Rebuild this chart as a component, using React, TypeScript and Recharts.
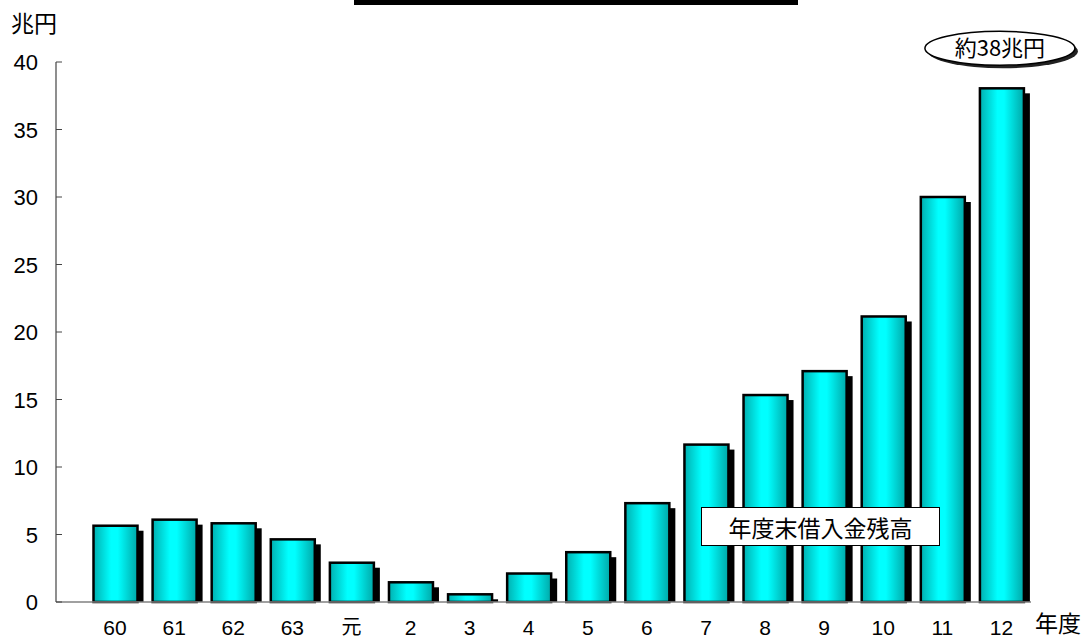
import React from 'react';
import { BarChart, Bar, XAxis, YAxis, Legend, LabelList } from 'recharts';

// Fiscal years (Showa 60 – Heisei 12) and year-end borrowing balance, trillion yen
const years = ['60', '61', '62', '63', '元', '2', '3', '4', '5', '6', '7', '8', '9', '10', '11', '12'];
const balances = [5.65, 6.1, 5.83, 4.64, 2.91, 1.46, 0.57, 2.11, 3.69, 7.32, 11.66, 15.33, 17.1, 21.15, 30.0, 38.05];
const yTicks = [0, 5, 10, 15, 20, 25, 30, 35, 40];
const seriesName = '年度末借入金残高';
const calloutText = '約38兆円';
const yUnit = '兆円';
const xUnit = '年度';

const data = years.map((year, i) => ({ year, balance: balances[i] }));

const FONT = '"Liberation Sans", Arial, "Noto Sans CJK JP", sans-serif';
const CJK = '"Noto Sans CJK JP", "Liberation Sans", sans-serif';

// Bar with a hard black drop shadow and a cylinder-like cyan gradient
const ShadowBar = (props: any) => {
  const { x, y, width, height } = props;
  if (!height || height <= 0) return null;
  const dx = 6;
  const dy = 5;
  return (
    <g>
      {height > dy && <rect x={x + dx} y={y + dy} width={width} height={height - dy} fill="#000" />}
      <rect x={x} y={y} width={width} height={height} fill="url(#cylinder)" stroke="#000" strokeWidth={2.5} />
    </g>
  );
};

const YTick = (props: any) => {
  const { x, y, payload } = props;
  return (
    <g>
      <line x1={x} x2={x + 6} y1={y} y2={y} stroke="#444" strokeWidth={1} />
      <text x={x - 18} y={y + 8} textAnchor="end" fontSize={22} fontFamily={FONT} fill="#000">
        {payload.value}
      </text>
    </g>
  );
};

const XTick = (props: any) => {
  const { x, y, payload } = props;
  const isCjk = payload.value === '元';
  return (
    <text
      x={x}
      y={y + (isCjk ? 32 : 33)}
      textAnchor="middle"
      fontSize={isCjk ? 20 : 21}
      fontFamily={isCjk ? CJK : FONT}
      fill="#000"
    >
      {payload.value}
    </text>
  );
};

// Oval callout above the final bar
const Callout = (props: any) => {
  const { x, y, width, index } = props;
  if (index !== balances.length - 1) return null;
  const cx = x + width / 2 - 2;
  const cy = y - 40;
  return (
    <g>
      <ellipse cx={cx + 3} cy={cy + 3} rx={75} ry={17} fill="#222" />
      <ellipse cx={cx} cy={cy} rx={75} ry={17} fill="#fff" stroke="#000" strokeWidth={1.5} />
      <text x={cx} y={cy + 8} textAnchor="middle" fontSize={22} fontFamily={CJK} fill="#000">
        {calloutText}
      </text>
    </g>
  );
};

// Series key drawn as a boxed label; zero-size wrapper so it reserves no chart space
const LegendBox = () => (
  <div
    style={{
      position: 'absolute',
      left: 0,
      top: 0,
      width: 239,
      height: 39,
      border: '1.5px solid #000',
      background: '#fff',
      boxSizing: 'border-box',
      display: 'flex',
      alignItems: 'center',
      justifyContent: 'center',
      fontFamily: CJK,
      fontSize: 23,
      color: '#000',
      whiteSpace: 'nowrap',
    }}
  >
    {seriesName}
  </div>
);

export default function App() {
  return (
    <div style={{ position: 'absolute', left: 0, top: 0, width: 1085, height: 641, background: '#fff' }}>
      <div style={{ position: 'absolute', left: 354, top: 0, width: 444, height: 5, background: '#000' }} />
      <BarChart
        width={1085}
        height={641}
        data={data}
        margin={{ top: 62, right: 54, bottom: 0, left: 0 }}
        barSize={44}
      >
        <defs>
          <linearGradient id="cylinder" x1="0" y1="0" x2="1" y2="0">
            <stop offset="0" stopColor="#00b0b0" />
            <stop offset="0.4" stopColor="#00ffff" />
            <stop offset="0.55" stopColor="#00ffff" />
            <stop offset="1" stopColor="#00a8a8" />
          </linearGradient>
        </defs>
        <XAxis
          dataKey="year"
          height={39}
          padding={{ left: 29.5, right: 0 }}
          axisLine={{ stroke: '#808080', strokeWidth: 1.5 }}
          tickLine={false}
          tickSize={0}
          tickMargin={0}
          interval={0}
          tick={<XTick />}
          label={(p: any) => (
            <text x={1035} y={632} fontSize={23} fontFamily={CJK} fill="#000">
              {xUnit}
            </text>
          )}
        />
        <YAxis
          width={56}
          domain={[0, 40]}
          ticks={yTicks}
          interval={0}
          axisLine={{ stroke: '#444', strokeWidth: 1.2 }}
          tickLine={false}
          tickSize={0}
          tickMargin={0}
          tick={<YTick />}
          label={(p: any) => (
            <text x={11} y={32} fontSize={23} fontFamily={CJK} fill="#000">
              {yUnit}
            </text>
          )}
        />
        <Legend
          content={<LegendBox />}
          wrapperStyle={{ position: 'absolute', left: 701, top: 507, width: 0, height: 0, overflow: 'visible' }}
        />
        <Bar dataKey="balance" name={seriesName} shape={<ShadowBar />} isAnimationActive={false}>
          <LabelList dataKey="balance" content={<Callout />} />
        </Bar>
      </BarChart>
    </div>
  );
}
